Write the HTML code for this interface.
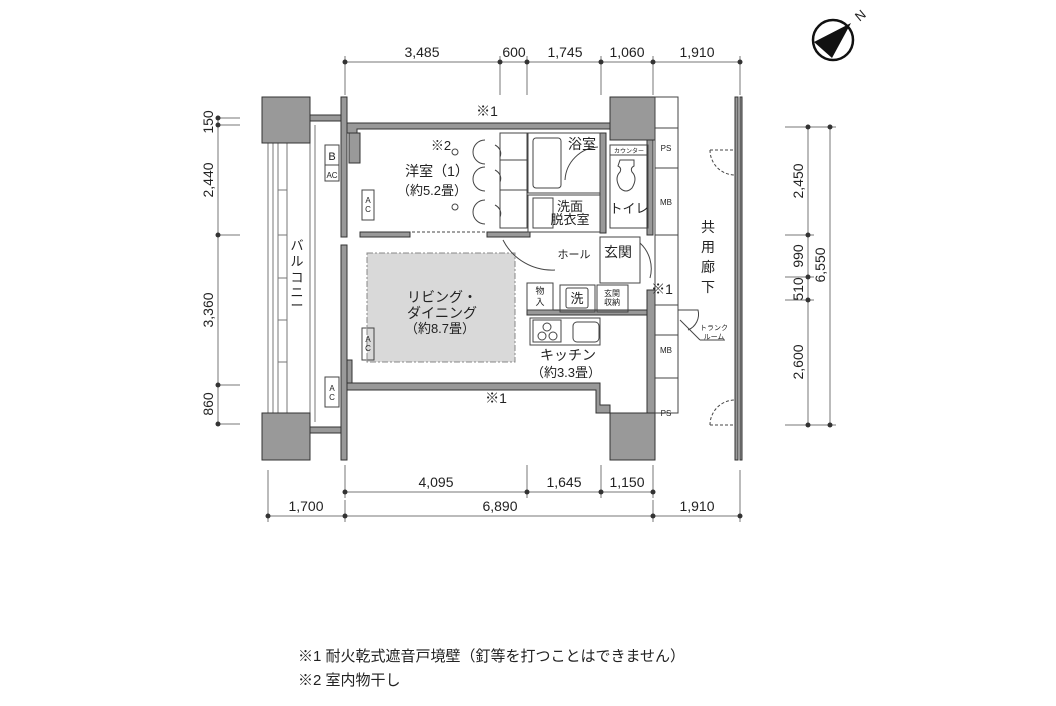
<!DOCTYPE html>
<html><head><meta charset="utf-8"><style>
html,body{margin:0;padding:0;background:#fff}
svg{display:block}
text{font-family:"Liberation Sans","Noto Sans CJK JP",sans-serif;fill:#222}
</style></head><body>
<svg width="1056" height="706" viewBox="0 0 1056 706" xmlns="http://www.w3.org/2000/svg">
<!-- compass -->
<circle cx="833" cy="40" r="20" fill="#fff" stroke="#111" stroke-width="2.5"/>
<polygon points="851,23 814,42 832,58" fill="#111"/>
<text x="860" y="20" font-size="13" transform="rotate(-40 860 15)" text-anchor="middle">N</text>

<!-- dimension lines -->
<g stroke="#777" stroke-width="1" fill="none">
<line x1="345" y1="62" x2="740" y2="62"/>
<line x1="345" y1="56" x2="345" y2="95"/><line x1="500" y1="56" x2="500" y2="95"/><line x1="527" y1="56" x2="527" y2="95"/><line x1="601" y1="56" x2="601" y2="95"/><line x1="653" y1="56" x2="653" y2="95"/><line x1="740" y1="56" x2="740" y2="95"/>
<line x1="345" y1="492" x2="653" y2="492"/>
<line x1="345" y1="465" x2="345" y2="498"/><line x1="527" y1="465" x2="527" y2="498"/><line x1="601" y1="465" x2="601" y2="498"/><line x1="653" y1="465" x2="653" y2="498"/>
<line x1="268" y1="516" x2="740" y2="516"/>
<line x1="268" y1="470" x2="268" y2="522"/><line x1="345" y1="500" x2="345" y2="522"/><line x1="653" y1="500" x2="653" y2="522"/><line x1="740" y1="470" x2="740" y2="522"/>
<line x1="218" y1="118" x2="218" y2="424"/>
<line x1="218" y1="118" x2="240" y2="118"/><line x1="218" y1="125" x2="240" y2="125"/><line x1="218" y1="235" x2="240" y2="235"/><line x1="218" y1="385" x2="240" y2="385"/><line x1="218" y1="424" x2="240" y2="424"/>
<line x1="808" y1="127" x2="808" y2="425"/><line x1="830" y1="127" x2="830" y2="425"/>
<line x1="785" y1="127" x2="836" y2="127"/><line x1="785" y1="235" x2="814" y2="235"/><line x1="785" y1="277" x2="814" y2="277"/><line x1="785" y1="300" x2="814" y2="300"/><line x1="785" y1="425" x2="836" y2="425"/>
</g>
<g fill="#333">
<circle cx="345" cy="62" r="2.5"/><circle cx="500" cy="62" r="2.5"/><circle cx="527" cy="62" r="2.5"/><circle cx="601" cy="62" r="2.5"/><circle cx="653" cy="62" r="2.5"/><circle cx="740" cy="62" r="2.5"/>
<circle cx="345" cy="492" r="2.5"/><circle cx="527" cy="492" r="2.5"/><circle cx="601" cy="492" r="2.5"/><circle cx="653" cy="492" r="2.5"/>
<circle cx="268" cy="516" r="2.5"/><circle cx="345" cy="516" r="2.5"/><circle cx="653" cy="516" r="2.5"/><circle cx="740" cy="516" r="2.5"/>
<circle cx="218" cy="118" r="2.5"/><circle cx="218" cy="125" r="2.5"/><circle cx="218" cy="235" r="2.5"/><circle cx="218" cy="385" r="2.5"/><circle cx="218" cy="424" r="2.5"/>
<circle cx="808" cy="127" r="2.5"/><circle cx="808" cy="235" r="2.5"/><circle cx="808" cy="277" r="2.5"/><circle cx="808" cy="300" r="2.5"/><circle cx="808" cy="425" r="2.5"/>
<circle cx="830" cy="127" r="2.5"/><circle cx="830" cy="425" r="2.5"/>
</g>
<g font-size="14" text-anchor="middle">
<text x="422" y="57">3,485</text><text x="514" y="57">600</text><text x="565" y="57">1,745</text><text x="627" y="57">1,060</text><text x="697" y="57">1,910</text>
<text x="436" y="487">4,095</text><text x="564" y="487">1,645</text><text x="627" y="487">1,150</text>
<text x="306" y="511">1,700</text><text x="500" y="511">6,890</text><text x="697" y="511">1,910</text>
<text transform="translate(213,122) rotate(-90)">150</text>
<text transform="translate(213,180) rotate(-90)">2,440</text>
<text transform="translate(213,310) rotate(-90)">3,360</text>
<text transform="translate(213,404) rotate(-90)">860</text>
<text transform="translate(803,181) rotate(-90)">2,450</text>
<text transform="translate(803,256) rotate(-90)">990</text>
<text transform="translate(803,289) rotate(-90)">510</text>
<text transform="translate(803,362) rotate(-90)">2,600</text>
<text transform="translate(825,265) rotate(-90)">6,550</text>
</g>

<!-- living gray -->
<rect x="367" y="253" width="148" height="109" fill="#d9d9d9" stroke="#888" stroke-dasharray="6,2,2,2"/>

<!-- balcony -->
<g stroke="#777" fill="none" stroke-width="1">
<rect x="268" y="143" width="42" height="270"/>
<line x1="273" y1="143" x2="273" y2="413"/><line x1="278" y1="143" x2="278" y2="413"/><line x1="287" y1="143" x2="287" y2="413"/>
<line x1="278" y1="190" x2="287" y2="190"/><line x1="278" y1="235" x2="287" y2="235"/><line x1="278" y1="278" x2="287" y2="278"/><line x1="278" y1="320" x2="287" y2="320"/><line x1="278" y1="362" x2="287" y2="362"/>
<line x1="315" y1="125" x2="315" y2="422"/>
</g>
<!-- walls -->
<g fill="#999" stroke="#333" stroke-width="1">
<rect x="262" y="97" width="48" height="46"/>
<rect x="262" y="413" width="48" height="47"/>
<rect x="610" y="97" width="45" height="43"/>
<rect x="610" y="413" width="45" height="47"/>
<rect x="310" y="115" width="31" height="6"/>
<rect x="310" y="427" width="31" height="6"/>
<rect x="341" y="97" width="6" height="140"/>
<rect x="341" y="245" width="6" height="215"/>
<polygon points="347,123 610,123 610,129 357,129 357,133 347,133"/>
<polygon points="349,133 360,133 360,163 349,163"/>
<polygon points="360,232 410,232 410,237 360,237"/>
<polygon points="487,232 530,232 530,237 487,237"/>
<polygon points="347,383 600,383 600,405 610,405 610,413 596,413 596,390 347,390"/>
<polygon points="347,360 352,360 352,383 347,383"/>
<rect x="600" y="133" width="6" height="100"/>
<rect x="647" y="140" width="6" height="95"/>
<rect x="647" y="290" width="8" height="123"/>
<rect x="527" y="310" width="120" height="5"/>
<rect x="735" y="97" width="3" height="363"/><rect x="740" y="97" width="2" height="363"/>
</g>
<!-- interior lines -->
<g stroke="#444" fill="none" stroke-width="1">
<rect x="500" y="133" width="27" height="95"/>
<line x1="500" y1="160" x2="527" y2="160"/><line x1="500" y1="190" x2="527" y2="190"/>
<rect x="528" y="133" width="72" height="60"/>
<rect x="533" y="138" width="28" height="50" rx="3"/>
<path d="M565 180 A35 35 0 0 1 598 147"/>
<rect x="528" y="195" width="72" height="37"/>
<rect x="533" y="198" width="20" height="30"/>
<rect x="610" y="145" width="38" height="83"/>
<line x1="610" y1="155" x2="648" y2="155"/>
<path d="M620 160 h14 v6 q-4 2 -2 6 q6 6 0 16 q-6 6 -12 0 q-6 -10 0 -16 q2 -4 -2 -6z"/>
<rect x="600" y="237" width="40" height="46"/>
<rect x="597" y="285" width="31" height="27"/>
<rect x="560" y="285" width="35" height="27"/>
<rect x="566" y="288" width="22" height="20" rx="2"/>
<rect x="527" y="283" width="26" height="27"/>
<rect x="530" y="318" width="70" height="27"/>
<rect x="533" y="320" width="28" height="22"/>
<circle cx="547" cy="327" r="4"/><circle cx="542" cy="336" r="4"/><circle cx="553" cy="336" r="4"/>
<rect x="573" y="322" width="26" height="20" rx="4"/>
<rect x="655" y="97" width="23" height="316"/>
<line x1="655" y1="128" x2="678" y2="128"/><line x1="655" y1="168" x2="678" y2="168"/><line x1="655" y1="235" x2="678" y2="235"/>
<line x1="655" y1="305" x2="678" y2="305"/><line x1="655" y1="335" x2="678" y2="335"/><line x1="655" y1="378" x2="678" y2="378"/>
<path d="M503 240 A55 55 0 0 0 555 270"/>
<path d="M640 243 A35 35 0 0 1 650 278"/>
<path d="M678 310 h20 a17 17 0 0 1 -10 20"/>
<line x1="680" y1="320" x2="700" y2="340"/><line x1="700" y1="340" x2="725" y2="340"/>
<path d="M495 145 a12 10 0 0 1 5 12 M495 170 a12 10 0 0 1 5 12 M495 205 a12 10 0 0 1 5 12" />
<path d="M485 140 a12 12 0 0 0 0 24 M485 167 a12 12 0 0 0 0 24 M485 200 a12 12 0 0 0 0 24"/>
<rect x="362" y="190" width="12" height="30"/>
<rect x="362" y="328" width="12" height="32"/>
<rect x="325" y="377" width="14" height="30"/>
<rect x="325" y="145" width="14" height="20"/><rect x="325" y="165" width="14" height="16"/>
<circle cx="455" cy="152" r="3"/><circle cx="455" cy="207" r="3"/>
</g>
<g stroke="#444" stroke-dasharray="3,2" fill="none">
<path d="M710 150 h25 M710 150 a25 25 0 0 0 25 25"/>
<path d="M710 425 h25 M710 425 a25 25 0 0 1 25 -25"/>
<line x1="412" y1="232" x2="485" y2="232"/>
</g>

<!-- labels -->
<g text-anchor="middle">
<text x="487" y="116" font-size="14">※1</text>
<text x="496" y="403" font-size="14">※1</text>
<text x="662" y="294" font-size="14">※1</text>
<text x="441" y="150" font-size="13">※2</text>
<text x="437" y="176" font-size="14">洋室（1）</text>
<text x="432" y="195" font-size="13">（約5.2畳）</text>
<text x="582" y="149" font-size="14">浴室</text>
<text x="570" y="211" font-size="13">洗面</text>
<text x="570" y="224" font-size="13">脱衣室</text>
<text x="629" y="213" font-size="13">トイレ</text>
<text x="629" y="153" font-size="6">カウンター</text>
<text x="574" y="258" font-size="11">ホール</text>
<text x="618" y="257" font-size="14">玄関</text>
<text x="540" y="294" font-size="9">物</text><text x="540" y="305" font-size="9">入</text>
<text x="577" y="303" font-size="13">洗</text>
<text x="612" y="296" font-size="8">玄関</text><text x="612" y="305" font-size="8">収納</text>
<text x="442" y="302" font-size="14">リビング・</text>
<text x="442" y="318" font-size="14">ダイニング</text>
<text x="440" y="333" font-size="13">（約8.7畳）</text>
<text x="568" y="360" font-size="14">キッチン</text>
<text x="566" y="377" font-size="13">（約3.3畳）</text>
<text x="666" y="151" font-size="8">PS</text>
<text x="666" y="205" font-size="8">MB</text>
<text x="666" y="353" font-size="8">MB</text>
<text x="666" y="416" font-size="8">PS</text>
<text x="714" y="330" font-size="7">トランク</text><text x="714" y="339" font-size="7">ルーム</text>
<text x="332" y="160" font-size="11">B</text>
<text x="332" y="178" font-size="8">AC</text>
<text x="368" y="203" font-size="8">A</text><text x="368" y="212" font-size="8">C</text>
<text x="368" y="342" font-size="8">A</text><text x="368" y="351" font-size="8">C</text>
<text x="332" y="391" font-size="8">A</text><text x="332" y="400" font-size="8">C</text>
<text x="297" y="250" font-size="13">バ</text><text x="297" y="266" font-size="13">ル</text><text x="297" y="282" font-size="13">コ</text><text x="297" y="297" font-size="13">ニ</text><text x="297" y="310" font-size="13">ー</text>
<text x="708" y="232" font-size="14">共</text><text x="708" y="252" font-size="14">用</text><text x="708" y="272" font-size="14">廊</text><text x="708" y="292" font-size="14">下</text>
</g>
<text x="298" y="661" font-size="15">※1 耐火乾式遮音戸境壁（釘等を打つことはできません）</text>
<text x="298" y="685" font-size="15">※2 室内物干し</text>
</svg>
</body></html>
